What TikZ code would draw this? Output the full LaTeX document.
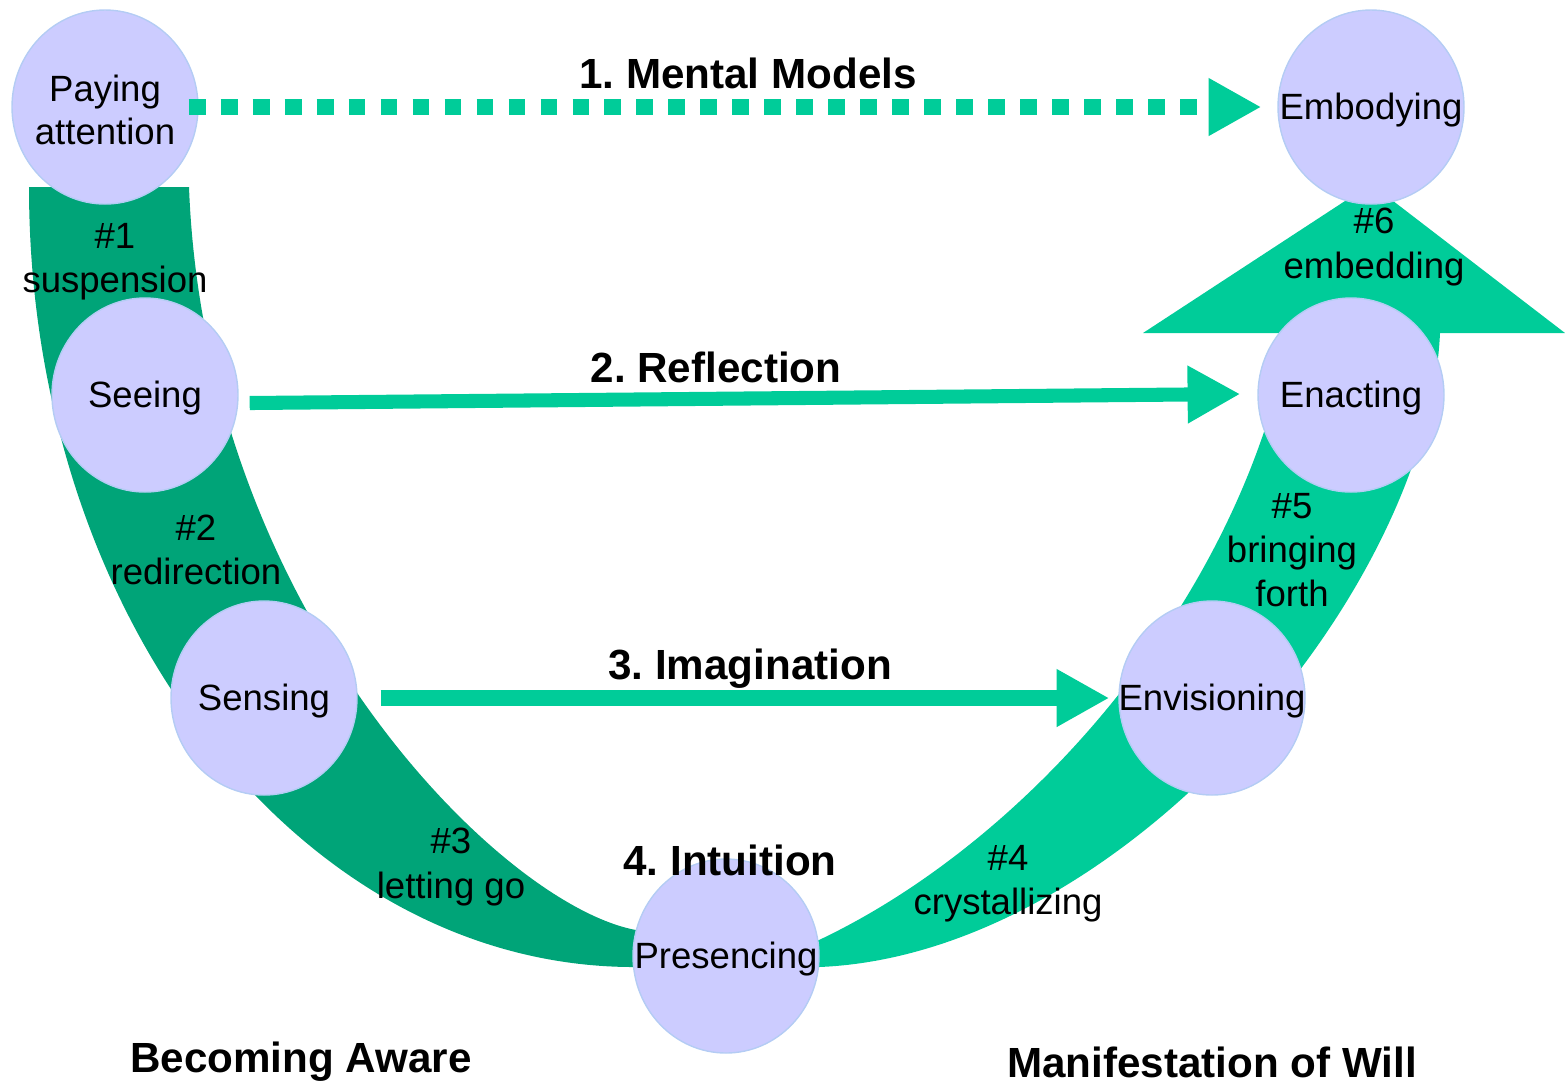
\documentclass[tikz,border=0pt]{standalone}
\usepackage{fontspec}
\setmainfont{Liberation Sans}
\frenchspacing
\usetikzlibrary{arrows.meta,shapes.geometric}
\definecolor{uleft}{HTML}{00A478}
\definecolor{uright}{HTML}{00CC99}
\definecolor{stagefill}{HTML}{CCCCFF}
\definecolor{stageline}{HTML}{B4CCF4}
\tikzset{stage/.style={draw=stageline,line width=0.4pt,fill=stagefill,ellipse,inner sep=0pt,
  minimum width=1.86cm,minimum height=1.94cm},
  stagetext/.style={align=center,yshift=-0.3mm,font=\fontsize{10.4}{12}\selectfont},
  move/.style={align=center,font=\fontsize{10.4}{12.6}\selectfont},
  level/.style={font=\bfseries\fontsize{12}{14}\selectfont},
  flow/.style={draw=uright,-{Triangle[length=15pt,width=15.4pt]}}}

\begin{document}
\begin{tikzpicture}
\useasboundingbox (0,0) rectangle (15.65,-10.87);
\fill[uleft] (0.29,-1.87) -- (1.89,-1.87) .. controls (2.05,-6.10) and (5.00,-9.05) .. (6.36,-9.30)
  -- (7.26,-9.30) -- (7.26,-9.67) -- (6.34,-9.67) .. controls (3.00,-9.67) and (0.29,-6.18) .. (0.29,-1.87) -- cycle;
\fill[uright] (7.26,-9.40) -- (8.19,-9.40) .. controls (10.30,-8.40) and (12.40,-6.00) .. (12.90,-3.33)
  -- (11.43,-3.33) -- (13.71,-1.84) -- (15.65,-3.33) -- (14.40,-3.33)
  .. controls (14.28,-5.95) and (11.20,-9.55) .. (8.19,-9.67) -- (7.26,-9.67) -- cycle;

\node[stage,label={[stagetext]center:Paying\\attention}] (pay) at (1.05,-1.07) {};
\node[stage,label={[stagetext]center:Seeing}] (see) at (1.45,-3.95) {};
\node[stage,label={[stagetext]center:Sensing}] (sens) at (2.64,-6.98) {};
\node[stage,label={[stagetext]center:Presencing}] (pres) at (7.26,-9.56) {};
\node[stage,label={[stagetext]center:Envisioning}] (env) at (12.12,-6.98) {};
\node[stage,label={[stagetext]center:Enacting}] (enact) at (13.51,-3.95) {};
\node[stage,label={[stagetext]center:Embodying}] (emb) at (13.71,-1.07) {};

\draw[flow,line width=4.8pt,dash pattern=on 4.8pt off 4.3pt] ([xshift=-1mm]pay.east) -- ([xshift=-1.6mm]emb.west);
\draw[flow,line width=4pt] ([xshift=1.1mm,yshift=-0.8mm]see.east) -- ([xshift=-1.7mm,yshift=0.1mm]enact.west);
\draw[flow,line width=4.5pt] ([xshift=2.3mm]sens.east) -- ([xshift=-0.9mm]env.west);

\node[level] (mental) at (7.48,-0.73) {1. Mental Models};
\node[level] (refl) at (7.16,-3.67) {2. Reflection};
\node[level] (imag) at (7.50,-6.69) {3. Imagination};
\node[level] (intu) at (7.30,-8.60) {4. Intuition};
\node[level] (aware) at (3.01,-10.62) {Becoming Aware};
\node[level] (will) at (12.12,-10.62) {Manifestation of Will};

\node[move] (m1) at (1.15,-2.62) {\#1\\suspension};
\node[move] (m2) at (1.96,-5.50) {\#2\\redirection};
\node[move] (m3) at (4.51,-8.67) {\#3\\letting go};
\node[move] (m4) at (10.08,-8.84) {\#4\\crystallizing};
\node[move] (m5) at (12.92,-5.50) {\#5\\bringing\\forth};
\node[move] (m6) at (13.74,-2.47) {\#6\\embedding};
\end{tikzpicture}
\end{document}
